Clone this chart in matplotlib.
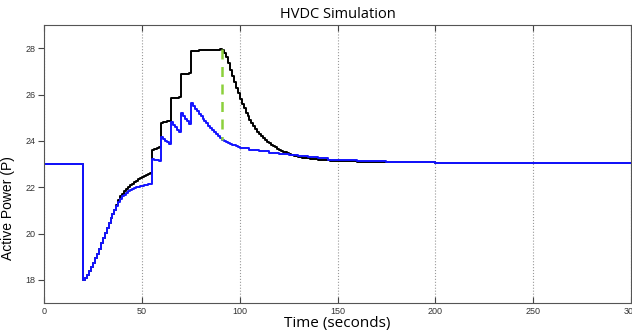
import numpy as np
import matplotlib
matplotlib.use("Agg")
import matplotlib.pyplot as plt

# sample times (s) and active power
t_rise = list(range(20, 55))
blue_rise = [18.00, 18.10, 18.22, 18.38, 18.55, 18.74, 18.93, 19.13, 19.35, 19.58,
             19.80, 20.03, 20.25, 20.45, 20.65, 20.85, 21.03, 21.20, 21.38, 21.50,
             21.60, 21.68, 21.76, 21.82, 21.87, 21.91, 21.95, 21.99, 22.02, 22.05,
             22.07, 22.09, 22.11, 22.13, 22.14]
black_rise = [18.00, 18.10, 18.22, 18.38, 18.55, 18.74, 18.93, 19.13, 19.35, 19.58,
              19.80, 20.03, 20.25, 20.45, 20.65, 20.85, 21.03, 21.22, 21.45, 21.60,
              21.72, 21.83, 21.93, 22.01, 22.08, 22.15, 22.22, 22.28, 22.34, 22.39,
              22.44, 22.48, 22.52, 22.56, 22.60]

t_mid = list(range(55, 101))
blue_mid = [23.20, 23.19, 23.18, 23.17, 23.15,
            24.15, 24.08, 24.01, 23.94, 23.87,
            24.82, 24.70, 24.58, 24.47, 24.37,
            25.22, 25.08, 24.96, 24.84, 24.73,
            25.65, 25.50, 25.38, 25.27, 25.16, 25.06, 24.96, 24.86, 24.76, 24.66,
            24.56, 24.47, 24.38, 24.29, 24.20, 24.12,
            24.05, 23.99, 23.94, 23.90, 23.86, 23.83, 23.80, 23.77, 23.74, 23.71]
black_mid = [23.60, 23.63, 23.66, 23.69, 23.72,
             24.78, 24.80, 24.82, 24.84, 24.86,
             25.83, 25.85, 25.86, 25.87, 25.88,
             26.87, 26.88, 26.89, 26.90, 26.91,
             27.88, 27.89, 27.90, 27.90, 27.91, 27.91, 27.92, 27.92, 27.92, 27.93,
             27.93, 27.93, 27.94, 27.94, 27.94, 27.95,
             27.92, 27.80, 27.60, 27.35, 27.08, 26.80, 26.55, 26.30, 26.05, 25.82]

t_blue_tail = [101, 105, 110, 115, 120, 125, 130, 135, 140, 145, 150, 160, 175, 200, 250, 300]
blue_tail = [23.69, 23.62, 23.55, 23.49, 23.44, 23.40, 23.36, 23.30, 23.24, 23.19,
             23.16, 23.11, 23.08, 23.06, 23.05, 23.05]

t_black_tail = list(range(101, 131)) + [132, 134, 136, 138, 140, 143, 146, 150, 160, 175, 200, 250, 300]
black_tail = [25.60, 25.40, 25.22, 25.06, 24.90, 24.76, 24.63, 24.51, 24.40, 24.30,
              24.20, 24.11, 24.03, 23.96, 23.89, 23.83, 23.77, 23.72, 23.67, 23.62,
              23.58, 23.54, 23.50, 23.47, 23.44, 23.41, 23.38, 23.36, 23.34, 23.32,
              23.28, 23.25, 23.23, 23.21, 23.19, 23.17, 23.15, 23.13, 23.10, 23.07,
              23.05, 23.04, 23.04]

t_pre = [0, 19.99]
p_pre = [23.0, 23.0]

t_marker = 91  # green dashed line

t_blue = t_pre + t_rise + t_mid + t_blue_tail
p_blue = p_pre + blue_rise + blue_mid + blue_tail
t_black = t_pre + t_rise + t_mid + t_black_tail
p_black = p_pre + black_rise + black_mid + black_tail

fig = plt.figure(figsize=(6.32, 3.32), dpi=100)
ax = fig.add_axes([0.0696, 0.0873, 0.9290, 0.8373])

ax.plot(t_black, p_black, color="black", lw=1.4, drawstyle="steps-post")
ax.plot(t_blue, p_blue, color="#1414ff", lw=1.4, drawstyle="steps-post")
ax.plot([t_marker, t_marker], [p_black[t_black.index(90)], p_blue[t_blue.index(91)]],
        color="#8cd03c", lw=1.8, dashes=(4, 3))

ax.set_xlim(0, 300)
ax.set_ylim(17, 29)
ax.set_xticks([0, 50, 100, 150, 200, 250, 300])
ax.set_yticks([18, 20, 22, 24, 26, 28])
ax.grid(axis="x", color="#999999", ls=":", lw=0.8)

narrow = ["Liberation Sans Narrow", "Liberation Sans", "DejaVu Sans"]
for lab in ax.get_xticklabels() + ax.get_yticklabels():
    lab.set_family(narrow)
    lab.set_fontsize(6.5)
    lab.set_color("#333333")
ax.tick_params(axis="x", direction="in", top=True, length=4, color="#444444", pad=3)
ax.tick_params(axis="y", direction="out", right=True, length=4, color="#444444", pad=2)
for s in ax.spines.values():
    s.set_color("#555555")
    s.set_linewidth(0.8)

ax.set_title("HVDC Simulation", fontsize=10.5, family="Open Sans", pad=5)
ax.set_xlabel("Time (seconds)", fontsize=11, family="Open Sans", labelpad=0)
ax.set_ylabel("Active Power (P)", fontsize=10, family=narrow)
ax.yaxis.set_label_coords(-0.049, 0.34)

fig.savefig("out.png", dpi=100)
